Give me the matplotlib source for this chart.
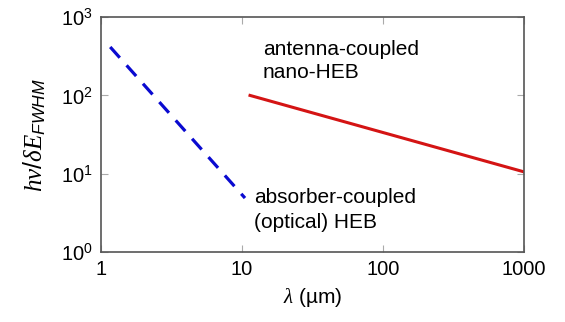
import matplotlib
matplotlib.use("Agg")
import matplotlib.pyplot as plt

plt.rcParams['font.family'] = ['Liberation Sans', 'DejaVu Sans']
plt.rcParams['mathtext.fontset'] = 'custom'
plt.rcParams['mathtext.it'] = 'Liberation Serif:italic'
plt.rcParams['mathtext.rm'] = 'Liberation Sans'
plt.rcParams['mathtext.sf'] = 'Liberation Sans:italic'

# absorber-coupled (optical) HEB
optical_wl = [1.16, 10.5]
optical_ratio = [415, 4.9]

# antenna-coupled nano-HEB
antenna_wl = [11.4, 1000]
antenna_ratio = [100, 10.6]

x_ticks = [1, 10, 100, 1000]
x_labels = ['1', '10', '100', '1000']
y_ticks = [1, 10, 100, 1000]
y_labels = [r'$\mathregular{10^0}$', r'$\mathregular{10^1}$',
            r'$\mathregular{10^2}$', r'$\mathregular{10^3}$']

fig = plt.figure(figsize=(5.65, 3.22), dpi=100)
ax = fig.add_axes([0.179, 0.217, 0.748, 0.730])

ax.plot(optical_wl, optical_ratio, color='#0a0ad0', lw=2.3,
        dashes=(4.5, 3.2))
ax.plot(antenna_wl, antenna_ratio, color='#d41414', lw=2.2)

ax.set_xscale('log')
ax.set_yscale('log')
ax.set_xlim(1, 1000)
ax.set_ylim(1, 1000)
ax.minorticks_off()
ax.set_xticks(x_ticks)
ax.set_xticklabels(x_labels)
ax.set_yticks(y_ticks)
ax.set_yticklabels(y_labels)
ax.tick_params(direction='in', length=5, width=0.8, color='#aaaaaa',
               top=True, right=True, labelsize=14.5, pad=6)

for s in ax.spines.values():
    s.set_color('#555555')
    s.set_linewidth(1.2)

ax.set_xlabel(r'$\lambda$ (µm)', fontsize=15, labelpad=5)
ax.set_ylabel(r'$h\nu/\delta E_{\mathsf{FWHM}}$', fontsize=18, labelpad=9)

ax.text(14.1, 328, 'antenna-coupled', fontsize=15, va='baseline')
ax.text(14.1, 167, 'nano-HEB', fontsize=15, va='baseline')
ax.text(12.2, 4.22, 'absorber-coupled', fontsize=15, va='baseline')
ax.text(12.2, 2.03, '(optical) HEB', fontsize=15, va='baseline')

fig.savefig('out.png', dpi=100)
